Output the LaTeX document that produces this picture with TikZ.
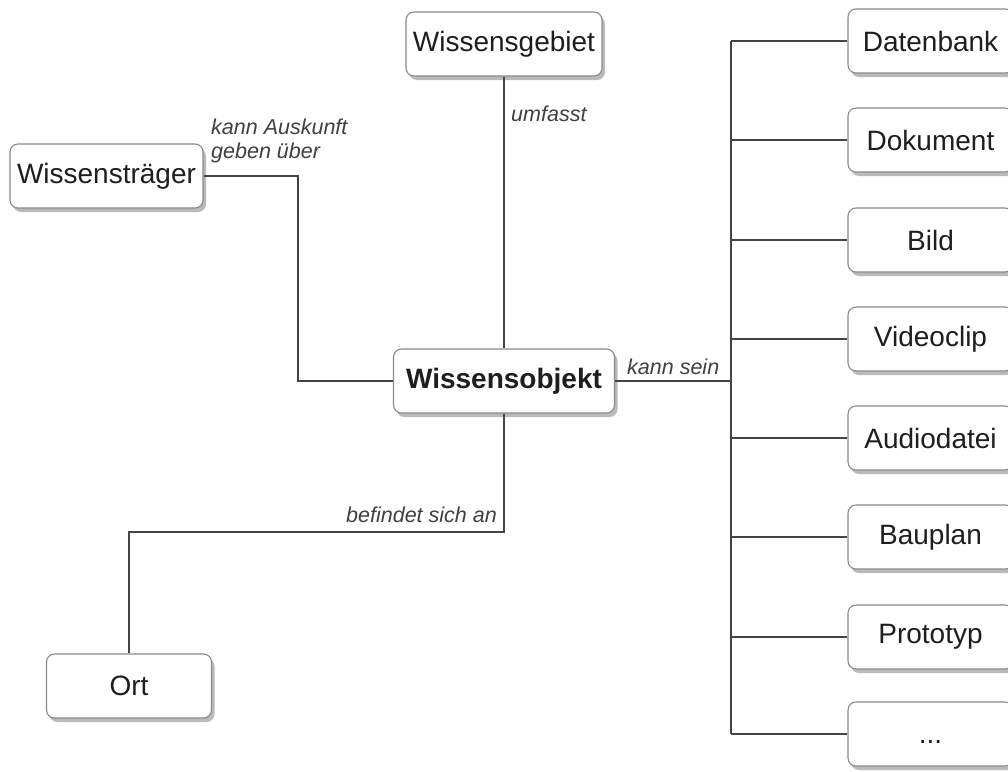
\documentclass[tikz,border=0pt]{standalone}
\usepackage{fontspec}
\setmainfont{Liberation Sans}
\usetikzlibrary{shadows}
\definecolor{txt}{HTML}{1E1E1E}
\definecolor{ln}{HTML}{444444}
\definecolor{bd}{HTML}{8A8A8A}
\begin{document}
\begin{tikzpicture}[x=1pt,y=-1pt,
  wbox/.style={draw=bd, line width=1.1pt, fill=white, rounded corners=8pt, inner sep=0pt,
    minimum height=64pt, text=txt, font=\fontsize{28}{32}\selectfont,
    drop shadow={shadow xshift=3pt, shadow yshift=-4pt, fill=black!45, opacity=0.6}},
  conn/.style={draw=ln, line width=1.3pt},
  lbl/.style={text=txt!85, font=\fontsize{21.5}{24}\selectfont\itshape, inner sep=0pt}]
\useasboundingbox (0,0) rectangle (1008,771);
\fill[white] (0,0) rectangle (1008,771);
% nodes
\node[wbox, minimum width=196pt] (wg) at (504,44) {Wissensgebiet};
\node[wbox, minimum width=193pt] (wt) at (106.5,176) {Wissensträger};
\node[wbox, minimum width=221pt, font=\fontsize{28}{32}\selectfont\bfseries] (wo) at (504,381) {Wissensobjekt};
\node[wbox, minimum width=165pt] (ort) at (129,686) {Ort};
\node[wbox, minimum width=165pt] (r1) at (930.5,41) {Datenbank};
\node[wbox, minimum width=165pt] (r2) at (930.5,140) {Dokument};
\node[wbox, minimum width=165pt] (r3) at (930.5,240) {Bild};
\node[wbox, minimum width=165pt] (r4) at (930.5,339) {Videoclip};
\node[wbox, minimum width=165pt] (r5) at (930.5,438) {Audiodatei};
\node[wbox, minimum width=165pt] (r6) at (930.5,537) {Bauplan};
\node[wbox, minimum width=165pt] (r7) at (930.5,637) {Prototyp};
\node[wbox, minimum width=165pt] (r8) at (930.5,734) {\raisebox{-9pt}[0pt][0pt]{...}};
% helper coordinates
\coordinate (bx) at (298,0);
\coordinate (yb) at (0,532);
\coordinate (bus) at (731,0);
% connectors
\draw[conn] (wg.south) -- (wo.north);
\draw[conn] (wt.east) -- (wt.east -| bx) -- (wo.west -| bx) -- (wo.west);
\draw[conn] (wo.south) -- (wo.south |- yb) -- (ort.north |- yb) -- (ort.north);
\draw[conn] (wo.east) -- (wo.east -| bus);
\draw[conn] (r1.west -| bus) -- (r8.west -| bus);
\foreach \r in {r1,r2,r3,r4,r5,r6,r7,r8}{
  \draw[conn] (\r.west -| bus) -- (\r.west);
}
% labels
\node[lbl, anchor=west] (l1) at (511,114) {umfasst};
\node[lbl, anchor=north west, align=left] (l2) at (211,119) {kann Auskunft\\geben über};
\node[lbl, anchor=south west] (l3) at (627,375) {kann sein};
\node[lbl, anchor=south east] (l4) at (497,523) {befindet sich an};
\end{tikzpicture}
\end{document}
